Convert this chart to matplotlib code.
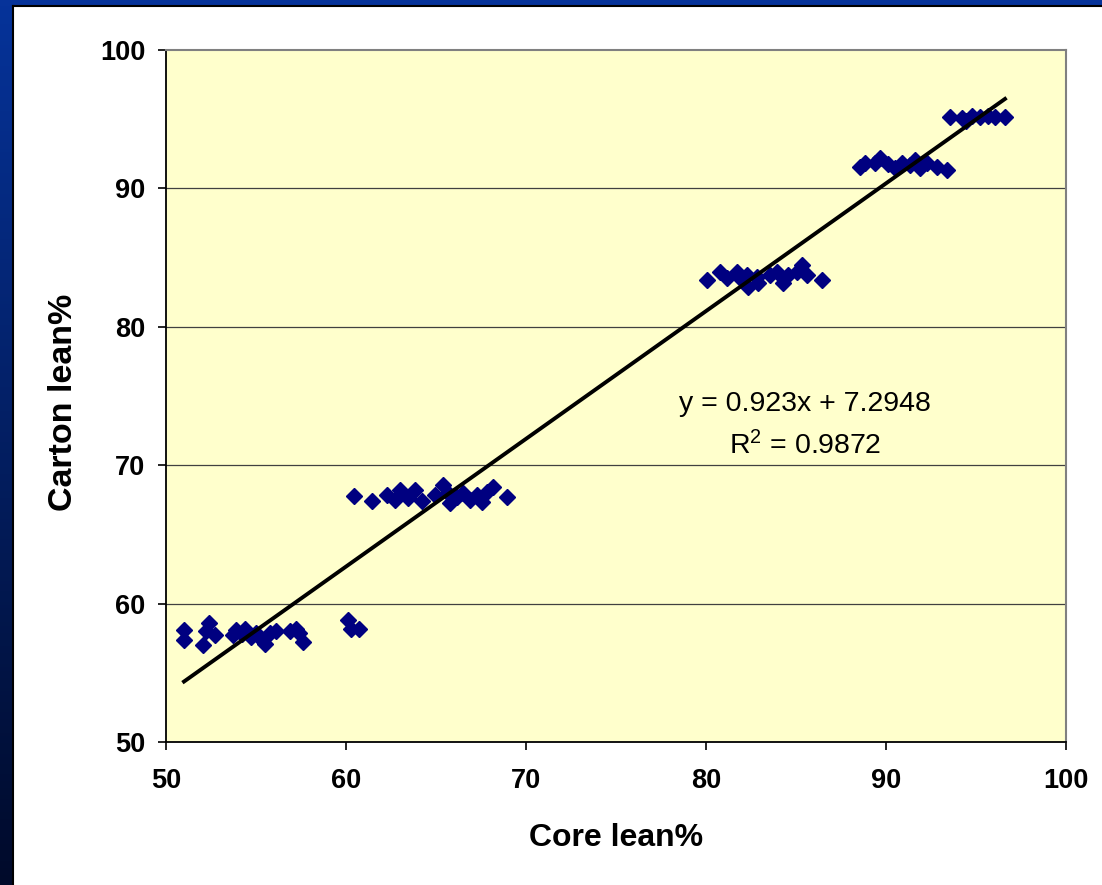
import numpy as np
from matplotlib import pyplot as plt
from matplotlib.patches import Rectangle

plt.rcParams['font.family'] = ['Liberation Sans', 'DejaVu Sans']
plt.rcParams['mathtext.fontset'] = 'custom'
plt.rcParams['mathtext.rm'] = 'Liberation Sans'
plt.rcParams['mathtext.default'] = 'regular'

# core lean% vs carton lean%, one entry per sample
core = [51.0, 51.0, 52.06, 52.2, 52.4, 52.7, 53.7, 53.9, 54.2, 54.4, 54.7, 55.0,
        55.2, 55.5, 55.8, 56.1, 56.9, 57.2, 57.4, 57.6, 60.1, 60.3, 60.7,
        60.44, 61.44, 62.28, 62.72, 63.0, 63.44, 63.83, 64.22, 64.94, 65.39,
        65.67, 65.78, 66.17, 66.5, 66.89, 67.28, 67.56, 67.83, 68.17, 68.94,
        80.06, 80.78, 81.17, 81.72, 82.0, 82.33, 82.28, 82.83, 82.89, 83.56,
        83.94, 84.28, 84.56, 85.06, 85.33, 85.61, 86.44,
        88.56, 88.83, 89.39, 89.67, 90.11, 90.5, 90.89, 91.33, 91.61, 91.89,
        92.28, 92.83, 93.39,
        93.56, 94.22, 94.44, 94.78, 95.22, 95.67, 96.06, 96.61]
carton = [58.1, 57.4, 57.0, 58.0, 58.6, 57.7, 57.7, 58.1, 57.8, 58.2, 57.6, 57.9,
          57.5, 57.1, 57.9, 58.0, 58.0, 58.2, 57.9, 57.2, 58.8, 58.2, 58.2,
          67.77, 67.41, 67.85, 67.49, 68.21, 67.63, 68.21, 67.41, 67.85, 68.57,
          67.99, 67.27, 67.70, 67.99, 67.49, 67.85, 67.34, 68.06, 68.42, 67.70,
          83.38, 83.96, 83.53, 83.96, 83.38, 82.88, 83.74, 83.60, 83.16, 83.74,
          83.96, 83.16, 83.74, 83.96, 84.47, 83.74, 83.38,
          91.55, 91.84, 91.84, 92.2, 91.76, 91.47, 91.84, 91.69, 92.05, 91.47,
          91.84, 91.55, 91.33,
          95.16, 95.09, 94.87, 95.23, 95.16, 95.23, 95.16, 95.16]

slope, intercept = 0.923, 7.2948
r_squared = 0.9872
ticks = [50, 60, 70, 80, 90, 100]

W, H = 1102, 885
fig = plt.figure(figsize=(W / 100, H / 100), dpi=100)
fig.patch.set_facecolor('white')

# slide frame: blue band on top, dark gradient strip on the left
bg = fig.add_axes([0, 0, 1, 1], zorder=-1)
bg.set_xlim(0, W)
bg.set_ylim(H, 0)
bg.axis('off')
grad = np.linspace(0, 1, 256).reshape(-1, 1)
top_c = np.array([0x06, 0x33, 0x9a]) / 255
bot_c = np.array([0x00, 0x0a, 0x2a]) / 255
img = top_c[None, None, :] * (1 - grad[:, :, None]) + bot_c[None, None, :] * grad[:, :, None]
bg.imshow(img, extent=(0, 12, H, 0), aspect='auto')
bg.add_patch(Rectangle((0, 0), W, 5.5, color='#06339a', lw=0))
bg.plot([12.5, 12.5], [5.5, H], color='black', lw=1.5)
bg.plot([12.5, W], [5.5, 5.5], color='black', lw=1.5)

ax = fig.add_axes([166 / W, 143 / H, 900 / W, 692 / H])
ax.set_facecolor('#ffffcc')
ax.set_xlim(50, 100)
ax.set_ylim(50, 100)

for g in [60, 70, 80, 90]:
    ax.axhline(g, color='#404040', lw=0.9, zorder=1)

ax.plot(core, carton, linestyle='none', marker='D', ms=8.2,
        color='#000080', zorder=2)

xs = np.array([min(core), max(core)])
ax.plot(xs, slope * xs + intercept, color='black', lw=2.8, zorder=3)

ax.text(85.5, 74.4, f'y = {slope}x + {intercept}', fontsize=20.5,
        ha='center', va='center')
ax.text(85.5, 71.4, f'R$^2$ = {r_squared}', fontsize=20.5,
        ha='center', va='center')

ax.set_xticks(ticks)
ax.set_yticks(ticks)
ax.tick_params(axis='both', direction='out', length=6, width=1.2, color='black',
               labelsize=19.5)
ax.tick_params(axis='x', pad=13)
ax.tick_params(axis='y', pad=9)
for lbl in ax.get_xticklabels() + ax.get_yticklabels():
    lbl.set_fontweight('bold')

for side in ['left', 'bottom']:
    ax.spines[side].set_color('black')
    ax.spines[side].set_linewidth(1.3)
for side in ['top', 'right']:
    ax.spines[side].set_color('#808080')
    ax.spines[side].set_linewidth(1.5)

fig.text(616 / W, 1 - 838 / H, 'Core lean%', fontsize=23, fontweight='bold',
         ha='center', va='center')
fig.text(64 / W, 1 - 402 / H, 'Carton lean%', fontsize=24.5, fontweight='bold',
         ha='center', va='center', rotation=90)

fig.savefig('out.png', dpi=100)
